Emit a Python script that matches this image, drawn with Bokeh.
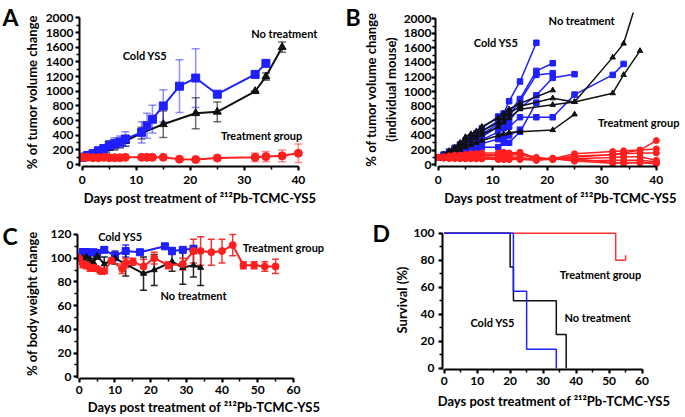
import numpy as np
from bokeh.plotting import figure
from bokeh.models import Range1d, LinearAxis, SingleIntervalTicker, Label, Whisker, TeeHead, ColumnDataSource
from bokeh.layouts import row, column
from bokeh.embed import file_html
from bokeh.resources import INLINE

FONT = "Lato"
BLUE = "#1f1fff"
RED = "#ff1f1f"
BLACK = "#111111"
XLABEL = "Days post treatment of ²¹²Pb-TCMC-YS5"

# ---------------- Panel A: mean tumor volume ----------------
a_cold_days = [0, 1, 2, 3, 4, 5, 6, 7, 8, 11, 12, 13, 15, 18, 21, 25, 32, 34]
a_cold_mean = [100, 125, 150, 190, 220, 260, 290, 310, 350, 440, 530, 620, 800, 1070, 1180, 960, 1230, 1380]
a_cold_sd = [10, 15, 25, 35, 45, 60, 75, 80, 100, 145, 170, 190, 220, 360, 400, 0, 0, 0]

a_none_days = [0, 1, 2, 3, 4, 5, 6, 7, 8, 11, 15, 21, 25, 32, 34, 37]
a_none_mean = [100, 115, 140, 165, 195, 225, 260, 290, 320, 430, 550, 700, 720, 1000, 1200, 1600]
a_none_sd = [10, 15, 20, 30, 40, 100, 60, 60, 70, 80, 180, 210, 135, 0, 50, 70]

a_tx_days = [0, 1, 2, 3, 4, 5, 6, 7, 8, 11, 12, 13, 15, 18, 21, 25, 32, 34, 37, 40]
a_tx_mean = [100, 100, 95, 95, 100, 95, 95, 95, 100, 100, 100, 100, 100, 75, 70, 90, 100, 110, 120, 155]
a_tx_sd = [5, 10, 10, 10, 10, 10, 10, 10, 10, 15, 15, 15, 20, 15, 15, 25, 60, 70, 80, 125]

# ---------------- Panel B: individual mice ----------------
b_cold_days = [0, 1, 2, 3, 4, 5, 6, 7, 8, 11, 12, 13, 15, 18, 21, 25, 32, 34]
b_cold_mice = [
    [100, 140, 180, 230, 280, 330, 380, 430, 500, 660, 700, 870, 1140, 1670],
    [100, 130, 170, 210, 260, 310, 360, 400, 460, 600, 690, 720, 900, 1285, 1390],
    [100, 125, 160, 200, 240, 290, 330, 370, 420, 560, 640, 680, 870, 1230, 1254],
    [100, 120, 150, 180, 220, 260, 300, 340, 380, 520, 580, 600, 780, 950, 1190, 1240],
    [100, 120, 140, 170, 200, 240, 270, 300, 340, 450, 500, 520, 650, 650, 650, 960, 1230, 1380],
    [100, 110, 125, 140, 160, 180, 200, 220, 240, 240, 300, 300, 450, 850],
    [100, 115, 135, 160, 180, 210, 240, 260, 290, 350, 380, 400, 480],
]
b_none_days = [
    [0, 1, 2, 3, 4, 5, 6, 7, 8, 11, 12, 13, 15, 21],
    [0, 1, 2, 3, 4, 5, 6, 7, 8, 11, 12, 13, 15, 21, 25, 32, 34, 37],
    [0, 1, 2, 3, 4, 5, 6, 7, 8, 11, 12, 13, 15, 21, 25, 32, 34, 37],
    [0, 1, 2, 3, 4, 5, 6, 7, 8, 11, 12, 13, 15, 21, 25],
]
b_none_mice = [
    [100, 140, 190, 240, 300, 380, 420, 460, 520, 640, 700, 760, 840, 1020],
    [100, 130, 170, 220, 270, 330, 370, 410, 460, 580, 640, 700, 800, 910, 860, 980, 1230, 1560],
    [100, 125, 160, 200, 240, 290, 330, 370, 410, 520, 580, 640, 760, 820, 860, 1470, 1660, 2380],
    [100, 115, 140, 170, 200, 240, 270, 300, 330, 400, 420, 440, 450, 475, 690],
]
b_tx_days = [0, 1, 2, 3, 4, 5, 6, 7, 8, 11, 12, 13, 15, 18, 21, 25, 32, 34, 37, 40]
b_tx_mice = [
    [100, 110, 120, 130, 130, 140, 150, 150, 160, 160, 170, 160, 170, 90, 70, 100, 140, 160, 200, 330],
    [100, 105, 110, 115, 120, 125, 130, 130, 135, 140, 145, 150, 155, 100, 80, 150, 180, 190, 200, 215],
    [100, 100, 100, 105, 110, 110, 115, 120, 120, 130, 130, 130, 140, 80, 75, 120, 135, 150, 160, 160],
    [100, 95, 95, 100, 100, 100, 100, 100, 105, 100, 100, 110, 100, 70, 70, 80, 100, 110, 110, 60],
    [100, 90, 90, 90, 95, 90, 90, 90, 90, 90, 90, 90, 90, 60, 80, 50, 60, 60, 60, 40],
    [100, 90, 85, 85, 80, 80, 80, 80, 80, 70, 70, 70, 70, 60, 90, 50, 20, 30, 30, 20],
    [100, 95, 90, 90, 90, 90, 85, 85, 85, 80, 80, 80, 80, 70, 80, 80, 30, 20, 30, 10],
]

# ---------------- Panel C: body weight ----------------
c_cold_days = [0, 1, 2, 4, 5, 7, 10, 13, 17, 24, 26, 29, 32]
c_cold_mean = [100, 105, 105, 105, 104, 107, 102, 106, 105, 110, 106, 107, 108]
c_cold_sd = [2, 3, 3, 2, 3, 2, 4, 5, 2, 2, 3, 2, 2]

c_none_days = [0, 1, 2, 3, 4, 5, 7, 10, 13, 18, 21, 26, 29, 32, 34]
c_none_mean = [100, 100, 101, 99, 96, 102, 95, 100, 95, 87, 90, 97, 92, 94, 92]
c_none_sd = [2, 3, 3, 3, 4, 3, 6, 5, 10, 14, 13, 8, 14, 10, 15]

c_tx_days = [0, 1, 2, 3, 4, 5, 6, 7, 9, 12, 13, 15, 18, 21, 25, 29, 32, 34, 37, 40, 43, 46, 49, 52, 55]
c_tx_mean = [100, 95, 94, 92, 92, 91, 89, 89, 98, 91, 96, 97, 93, 100, 94, 95, 106, 106, 105, 106, 111, 94, 94, 93, 93]
c_tx_sd = [2, 3, 3, 3, 3, 2, 2, 2, 2, 4, 4, 3, 6, 5, 3, 5, 10, 12, 11, 10, 9, 3, 3, 4, 6]

# ---------------- Panel D: survival ----------------
d_tx_days = [0, 52, 55]
d_tx_surv = [100, 80, 80]
d_tx_censor_day = [55]
d_tx_censor_surv = [80]
d_none_days = [0, 20, 21, 34, 37]
d_none_surv = [100, 75, 50, 25, 0]
d_cold_days = [0, 21, 25, 34]
d_cold_surv = [100, 57, 14, 0]


def make_fig(w, h, xr, yr, bl, br, bt, bb):
    p = figure(width=w, height=h, x_range=Range1d(*xr), y_range=Range1d(*yr),
               output_backend="svg", toolbar_location=None,
               min_border_left=bl, min_border_right=br, min_border_top=bt, min_border_bottom=bb,
               x_axis_type=None, y_axis_type=None)
    p.frame_align = False
    p.outline_line_color = None
    p.background_fill_color = "white"
    p.border_fill_color = "white"
    return p


def blank_fig(w, h, title=""):
    p = figure(width=w, height=h, x_range=Range1d(0, w), y_range=Range1d(0, h), title=title,
               output_backend="svg", toolbar_location=None, min_border=0,
               x_axis_type=None, y_axis_type=None)
    p.frame_align = False
    p.outline_line_color = None
    p.background_fill_color = "white"
    p.border_fill_color = "white"
    return p


def letter_title_fig(w, h, x, s):
    # the panel letter is the figure's own title, so it sits at the very top
    p = blank_fig(w, h, s)
    p.title.text_font = FONT
    p.title.text_font_style = "bold"
    p.title.text_font_size = "23px"
    p.title.text_color = "black"
    p.title.align = "left"
    p.title.offset = x
    p.title.standoff = 0
    return p


def letter_label_fig(w, h, x, y, s):
    p = blank_fig(w, h)
    p.add_layout(Label(x=x, y=y, text=s, text_font=FONT, text_font_style="bold",
                       text_font_size="23px", text_align="left", text_baseline="alphabetic",
                       text_color="black"))
    return p


def style_axis(ax, label_standoff, title_standoff, tick_out=4):
    ax.axis_line_width = 2
    ax.axis_line_color = "black"
    ax.major_tick_line_width = 2
    ax.major_tick_out = tick_out
    ax.major_tick_in = 0
    ax.minor_tick_line_width = 1.5
    ax.minor_tick_out = 3
    ax.minor_tick_in = 0
    ax.major_label_text_font = FONT
    ax.major_label_text_font_style = "bold"
    ax.major_label_text_font_size = "12px"
    ax.major_label_text_color = "black"
    ax.major_label_standoff = label_standoff
    ax.axis_label_text_font = FONT
    ax.axis_label_text_font_style = "bold"
    ax.axis_label_text_font_size = "13px"
    ax.axis_label_text_color = "black"
    ax.axis_label_standoff = title_standoff


def add_axes(p, xb, yb, xint, yint, ylabel, xls, yls):
    xa = LinearAxis(ticker=SingleIntervalTicker(interval=xint, num_minor_ticks=2),
                    bounds=xb, axis_label=XLABEL)
    ya = LinearAxis(ticker=SingleIntervalTicker(interval=yint, num_minor_ticks=2),
                    bounds=yb, axis_label=ylabel)
    style_axis(xa, *xls)
    style_axis(ya, *yls)
    p.add_layout(xa, "below")
    p.add_layout(ya, "left")


def txt(p, x, y, s, size="11px", align="center"):
    p.add_layout(Label(x=x, y=y, text=s, text_font=FONT, text_font_style="bold",
                       text_font_size=size, text_align=align, text_baseline="middle",
                       text_color="black"))


def errbars(p, xs, ms, sds, color, alpha, head=8, width=1.5):
    src = ColumnDataSource(dict(x=xs, lo=[m - s for m, s in zip(ms, sds)],
                                hi=[m + s for m, s in zip(ms, sds)]))
    w = Whisker(source=src, base="x", lower="lo", upper="hi", dimension="height",
                line_color=color, line_alpha=alpha, line_width=width,
                upper_head=TeeHead(size=head, line_color=color, line_alpha=alpha, line_width=width),
                lower_head=TeeHead(size=head, line_color=color, line_alpha=alpha, line_width=width))
    p.add_layout(w)


# ---------- A ----------
pA = make_fig(320, 208, (-0.5, 44.1), (-25, 2005), 52, 20, 17, 42)
add_axes(pA, (0, 40), (-25, 2000), 10, 200, "% of tumor volume change", xls=(5, 3), yls=(2, 3))
errbars(pA, a_none_days, a_none_mean, a_none_sd, BLACK, 0.6)
errbars(pA, a_cold_days, a_cold_mean, a_cold_sd, BLUE, 0.5)
errbars(pA, a_tx_days, a_tx_mean, a_tx_sd, RED, 0.5)
pA.line(a_none_days, a_none_mean, line_color=BLACK, line_width=2)
pA.scatter(a_none_days, a_none_mean, marker="triangle", size=8, color=BLACK)
pA.line(a_cold_days, a_cold_mean, line_color=BLUE, line_width=2)
pA.scatter(a_cold_days, a_cold_mean, marker="square", size=8, color=BLUE)
pA.line(a_tx_days, a_tx_mean, line_color=RED, line_width=2)
pA.scatter(a_tx_days, a_tx_mean, marker="circle", size=8, color=RED)
txt(pA, 37.4, 1786, "No treatment")
txt(pA, 11.6, 1487, "Cold YS5")
txt(pA, 33.2, 398, "Treatment group")

# ---------- B ----------
pB = make_fig(325, 208, (-0.5, 45.35), (-25, 2085), 71, 0, 12, 41)
add_axes(pB, (0, 40), (-25, 2000), 10, 200, "% of tumor volume change\n(individual mouse)",
         xls=(5, 3), yls=(0, 2))
for vals in b_cold_mice:
    d = b_cold_days[:len(vals)]
    pB.line(d, vals, line_color=BLUE, line_width=1.5)
    pB.scatter(d, vals, marker="square", size=5.5, color=BLUE)
for d, vals in zip(b_none_days, b_none_mice):
    pB.line(d, vals, line_color=BLACK, line_width=1.5)
    pB.scatter(d, vals, marker="triangle", size=5.5, color=BLACK)
for vals in b_tx_mice:
    pB.line(b_tx_days, vals, line_color=RED, line_width=1.5)
    pB.scatter(b_tx_days, vals, marker="circle", size=6, color=RED)
txt(pB, 26.3, 1977, "No treatment")
txt(pB, 10.6, 1678, "Cold YS5")
txt(pB, 29.3, 579, "Treatment group", align="left")

# ---------- C ----------
pC = make_fig(320, 209, (-0.5, 70.4), (-1.5, 125), 57, 10, 20, 38)
add_axes(pC, (0, 60), (-1.5, 120), 10, 20, "% of body weight change", xls=(3, 2), yls=(2, 8))
errbars(pC, c_cold_days, c_cold_mean, c_cold_sd, BLUE, 0.9, head=7)
errbars(pC, c_none_days, c_none_mean, c_none_sd, BLACK, 0.9, head=7)
errbars(pC, c_tx_days, c_tx_mean, c_tx_sd, RED, 0.9, head=7)
pC.line(c_cold_days, c_cold_mean, line_color=BLUE, line_width=2)
pC.scatter(c_cold_days, c_cold_mean, marker="square", size=7, color=BLUE)
pC.line(c_none_days, c_none_mean, line_color=BLACK, line_width=2)
pC.scatter(c_none_days, c_none_mean, marker="triangle", size=6, color=BLACK)
pC.line(c_tx_days, c_tx_mean, line_color=RED, line_width=2)
pC.scatter(c_tx_days, c_tx_mean, marker="circle", size=7, color=RED)
txt(pC, 11.5, 118.3, "Cold YS5")
txt(pC, 57.2, 109.1, "Treatment group")
txt(pC, 32, 68.9, "No treatment")

# ---------- D ----------
pD = make_fig(295, 209, (-0.5, 67.1), (-1, 102), 45, 20, 22, 48)
add_axes(pD, (0, 60), (-1, 100), 10, 20, "Survival (%)", xls=(3, 5), yls=(4, 1))
pD.step(d_tx_days, d_tx_surv, mode="after", line_color="#ff3030", line_width=1.5)
pD.ray(x=d_tx_censor_day, y=d_tx_censor_surv, length=5, length_units="screen", angle=np.pi / 2,
       line_color="#ff3030", line_width=1.5)
pD.step(d_none_days, d_none_surv, mode="after", line_color=BLACK, line_width=1.5)
pD.step(d_cold_days, d_cold_surv, mode="after", line_color=BLUE, line_width=1.5)
txt(pD, 47.4, 69.2, "Treatment group")
txt(pD, 46.5, 37.5, "No treatment")
txt(pD, 14.7, 33.8, "Cold YS5")

lA = letter_title_fig(20, 208, 2, "A")
lB = letter_title_fig(20, 208, 5, "B")
lC = letter_label_fig(20, 209, 2, 182, "C")
lD = letter_label_fig(50, 209, 32, 185, "D")

# each plot sits in its own box so that the frames of neighbouring plots are not aligned
layout = column(
    row(lA, column(pA), lB, column(pB)),
    row(lC, column(pC), lD, column(pD)),
)
open("out.html", "w").write(file_html(layout, INLINE))
